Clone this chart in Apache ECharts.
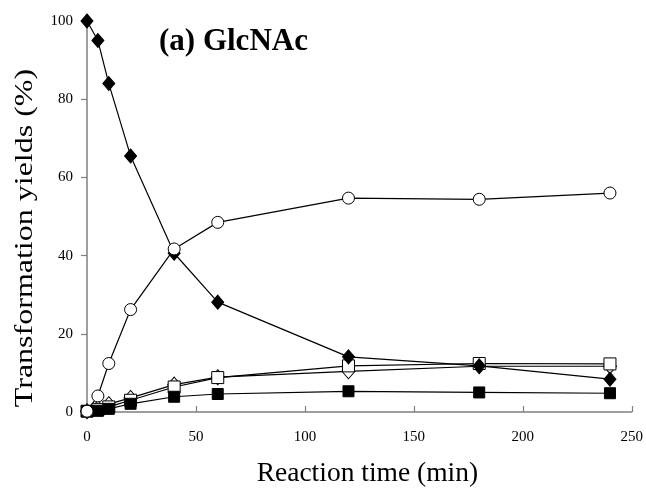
<!DOCTYPE html>
<html>
<head>
<meta charset="utf-8">
<script src="https://cdn.jsdelivr.net/npm/echarts@6/dist/echarts.min.js"></script>
<style>
  html, body { margin: 0; padding: 0; background: #fff; }
  #chart { width: 646px; height: 495px; }
</style>
</head>
<body>
<div id="chart"></div>
<script>
// reaction times (min)
var times = [0, 5, 10, 20, 40, 60, 120, 180, 240];

// transformation yields (%)
var glcnac    = [100, 95, 84, 65.5, 40.6, 28.1, 14.1, 11.8, 8.4];   // filled diamond
var product1  = [0.2, 4.1, 12.4, 26.2, 41.7, 48.5, 54.7, 54.4, 56];  // open circle
var product2  = [0.2, 0.6, 1.3, 3.0, 6.4, 8.8, 11.8, 12.4, 12.3];   // open square
var product3  = [0.2, 1.0, 2.0, 3.6, 7.0, 8.9, 10.4, 11.7, 11.7];   // open diamond
var product4  = [0.2, 0.3, 0.8, 2.1, 3.9, 4.6, 5.3, 5.0, 4.8];      // filled square

var yTicks = [0, 20, 40, 60, 80, 100];
var xTicks = [0, 50, 100, 150, 200, 250];

function pairs(ys) {
    return times.map(function (t, i) { return [t, ys[i]]; });
}

var serif = '"Liberation Serif", "Times New Roman", serif';

function line(name, ys, symbol, size, fill) {
    return {
        name: name,
        type: 'line',
        data: pairs(ys),
        symbol: symbol,
        symbolSize: size,
        showAllSymbol: true,
        lineStyle: { color: '#000', width: 1.2 },
        itemStyle: { color: fill, borderColor: '#000', borderWidth: 1 },
        emphasis: { disabled: true },
        animation: false
    };
}

var myChart = echarts.init(document.getElementById('chart'));

var option = {
    backgroundColor: '#fff',
    title: {
        text: '(a) GlcNAc',
        left: 154,
        top: 21,
        textStyle: { fontFamily: serif, fontSize: 31, fontWeight: 'bold', color: '#000' }
    },
    // y title is stretched along its length like in the original figure
    graphic: [{
        type: 'text',
        x: 25,
        y: 238,
        rotation: Math.PI / 2,
        scaleX: 1.28,
        silent: true,
        style: {
            text: 'Transformation yields (%)',
            font: '25px ' + serif,
            fill: '#000',
            align: 'center',
            verticalAlign: 'middle'
        }
    }],
    grid: { left: 87, right: 14, top: 21, bottom: 83 },
    xAxis: {
        type: 'value',
        min: xTicks[0],
        max: xTicks[xTicks.length - 1],
        interval: 50,
        name: 'Reaction time (min)',
        nameLocation: 'middle',
        nameGap: 48,
        nameTextStyle: { fontFamily: serif, fontSize: 27.5, color: '#000', padding: [0, 0, 0, 16] },
        axisLine: { lineStyle: { color: '#7f7f7f', width: 1.5 } },
        axisTick: { inside: true, length: 6, lineStyle: { color: '#7f7f7f', width: 1.2 } },
        axisLabel: { fontFamily: serif, fontSize: 15, color: '#000', margin: 18 },
        splitLine: { show: false }
    },
    yAxis: {
        type: 'value',
        min: yTicks[0],
        max: yTicks[yTicks.length - 1],
        interval: 20,
        axisLine: { show: true, lineStyle: { color: '#7f7f7f', width: 1.5 } },
        axisTick: { show: true, inside: false, length: 6, lineStyle: { color: '#7f7f7f', width: 1.2 } },
        axisLabel: { fontFamily: serif, fontSize: 15, color: '#000', margin: 14 },
        splitLine: { show: false }
    },
    series: [
        line('open diamond', product3, 'diamond', [13, 15], '#fff'),
        line('open square', product2, 'rect', 12, '#fff'),
        line('filled square', product4, 'rect', 11, '#000'),
        line('GlcNAc', glcnac, 'diamond', [12, 14], '#000'),
        line('open circle', product1, 'circle', 12, '#fff')
    ]
};

myChart.setOption(option);
</script>
</body>
</html>
